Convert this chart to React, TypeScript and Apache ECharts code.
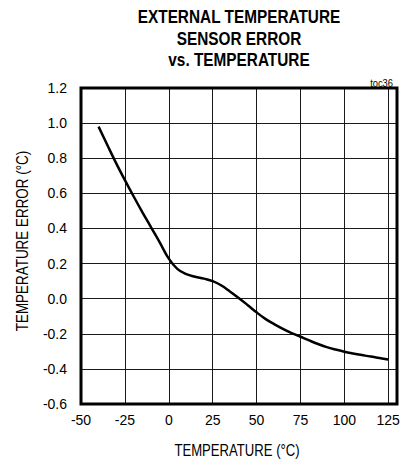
import React, { useEffect, useRef } from "react";
import * as echarts from "echarts";

const temps = [-40, -35, -30, -25, -20, -15, -10, -5, 0, 5, 10, 15, 20, 25, 30, 35, 40, 45, 50, 55, 60, 65, 70, 75, 80, 85, 90, 95, 100, 105, 110, 115, 120, 125];
const errors = [0.98, 0.875, 0.772, 0.675, 0.582, 0.492, 0.405, 0.318, 0.228, 0.168, 0.14, 0.125, 0.114, 0.1, 0.075, 0.04, 0.003, -0.037, -0.078, -0.115, -0.145, -0.172, -0.196, -0.217, -0.238, -0.258, -0.276, -0.29, -0.302, -0.312, -0.321, -0.33, -0.338, -0.347];
const titleLines = ["EXTERNAL TEMPERATURE", "SENSOR ERROR", "vs. TEMPERATURE"];
const xTitle = "TEMPERATURE (°C)";
const yTitle = "TEMPERATURE ERROR (°C)";
const tag = "toc36";

const FONT = "'Liberation Sans', Arial, sans-serif";

export default function App() {
  const ref = useRef<HTMLDivElement>(null);
  useEffect(() => {
    if (!ref.current) return;
    const chart = echarts.init(ref.current, null, { renderer: "svg" });
    chart.setOption({
      animation: false,
      backgroundColor: "#fff",
      grid: {
        left: 81,
        right: 8,
        top: 88,
        bottom: 58,
        show: true,
        borderColor: "#000",
        borderWidth: 3,
        backgroundColor: "transparent",
        z: 3,
      },
      xAxis: {
        type: "value",
        min: -50,
        max: 130,
        interval: 25,
        axisLine: { show: false },
        axisTick: { show: false },
        splitLine: { show: true, lineStyle: { color: "#1a1a1a", width: 1 } },
        axisLabel: {
          margin: 9,
          color: "#000",
          fontFamily: FONT,
          fontSize: 14,
          showMaxLabel: false,
          formatter: (v: number) => (v > 125 ? "" : String(v)),
        },
      },
      yAxis: {
        type: "value",
        min: -0.6,
        max: 1.2,
        interval: 0.2,
        axisLine: { show: false },
        axisTick: { show: false },
        splitLine: { show: true, lineStyle: { color: "#1a1a1a", width: 1 } },
        axisLabel: {
          margin: 14,
          color: "#000",
          fontFamily: FONT,
          fontSize: 14,
          formatter: (v: number) => v.toFixed(1),
        },
      },
      series: [
        {
          type: "line",
          data: temps.map((t, i) => [t, errors[i]]),
          smooth: 0.4,
          symbol: "none",
          lineStyle: { color: "#000", width: 2.5 },
          z: 5,
        },
      ],
      graphic: [
        ...titleLines.map((t, i) => ({
          type: "text",
          x: 239,
          y: 17 + i * 21.7,
          scaleX: 0.83,
          style: {
            text: t,
            fontFamily: FONT,
            fontWeight: "bold",
            fontSize: 18.5,
            fill: "#000",
            align: "center",
            verticalAlign: "middle",
          },
        })),
        {
          type: "text",
          x: 393,
          y: 83,
          scaleX: 0.85,
          style: {
            text: tag,
            fontFamily: FONT,
            fontSize: 11,
            fill: "#000",
            align: "right",
            verticalAlign: "middle",
          },
        },
        {
          type: "text",
          x: 237,
          y: 451,
          scaleX: 0.82,
          style: {
            text: xTitle,
            fontFamily: FONT,
            fontSize: 16,
            fill: "#000",
            align: "center",
            verticalAlign: "middle",
          },
        },
        {
          type: "text",
          x: 23,
          y: 241,
          rotation: Math.PI / 2,
          scaleX: 0.84,
          style: {
            text: yTitle,
            fontFamily: FONT,
            fontSize: 16,
            fill: "#000",
            align: "center",
            verticalAlign: "middle",
          },
        },
      ],
    });
    return () => chart.dispose();
  }, []);
  return <div ref={ref} style={{ width: 405, height: 462, position: "absolute", left: 0, top: 0 }} />;
}
